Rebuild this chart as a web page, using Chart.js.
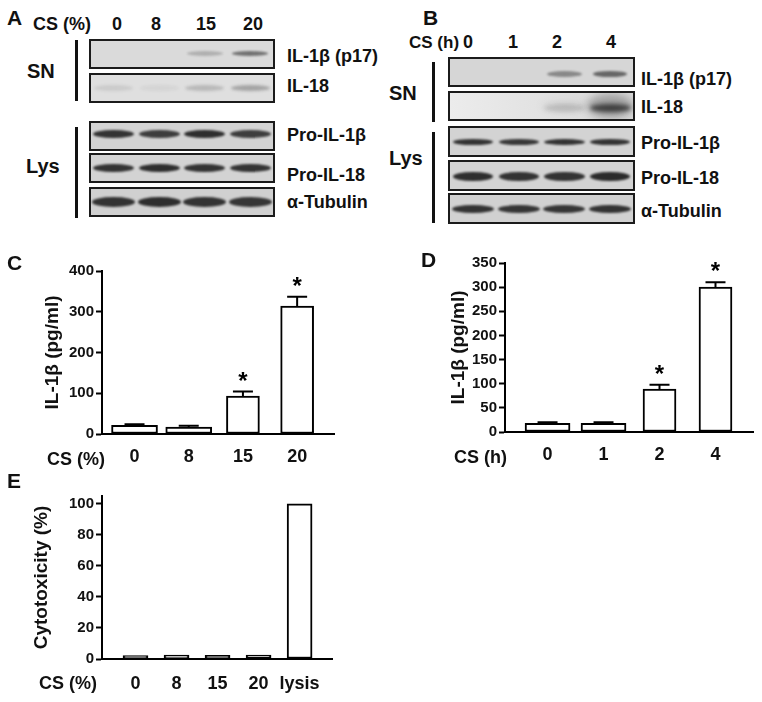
<!DOCTYPE html>
<html><head><meta charset="utf-8">
<script src="https://cdn.jsdelivr.net/npm/chart.js@4.4.1/dist/chart.umd.min.js"></script>
<style>
body{margin:0;background:#fff;width:762px;height:702px;position:relative;overflow:hidden;font-family:'Liberation Sans',Arial,sans-serif;}
canvas{position:absolute;}
.t{position:absolute;font-weight:bold;line-height:1;white-space:nowrap;color:#111;}
.box{position:absolute;box-sizing:border-box;border:2px solid #1b1b1b;overflow:hidden;}
.band{position:absolute;border-radius:50%;}
.vl{position:absolute;background:#111;width:3px;}
</style></head><body>
<canvas id="cC" width="381" height="240" style="left:0;top:230px"></canvas>
<canvas id="cD" width="381" height="240" style="left:381px;top:230px"></canvas>
<canvas id="cE" width="381" height="242" style="left:0;top:460px"></canvas>
<script>
// ---------- data ----------
const catC = ['0', '8', '15', '20'];
const valC = [21, 17, 93, 314];
const errC = [3, 3, 11, 23];
const sigC = [false, false, true, true];
const ticksC = [0, 100, 200, 300, 400];

const catD = ['0', '1', '2', '4'];
const valD = [18, 18, 89, 300];
const errD = [2, 2, 9, 10];
const sigD = [false, false, true, true];
const ticksD = [0, 50, 100, 150, 200, 250, 300, 350];

const catE = ['0', '8', '15', '20', 'lysis'];
const valE = [2.2, 2.5, 2.3, 2.6, 100];
const errE = [0, 0, 0, 0, 0];
const sigE = [false, false, false, false, false];
const ticksE = [0, 20, 40, 60, 80, 100];

// blot lane labels and band intensities (0..1)
const lanesA = ['0', '8', '15', '20'];
const lanesB = ['0', '1', '2', '4'];
const rowsA = ['IL-1β (p17)', 'IL-18', 'Pro-IL-1β', 'Pro-IL-18', 'α-Tubulin'];
const rowsB = ['IL-1β (p17)', 'IL-18', 'Pro-IL-1β', 'Pro-IL-18', 'α-Tubulin'];
const bandsA = [[0, 0, 0.22, 0.55], [0.1, 0.05, 0.2, 0.3], [0.88, 0.82, 0.9, 0.82], [0.88, 0.9, 0.88, 0.88], [0.88, 0.9, 0.88, 0.86]];
const bandsB = [[0, 0, 0.42, 0.6], [0, 0, 0.15, 0.75], [0.88, 0.85, 0.88, 0.88], [0.9, 0.88, 0.88, 0.92], [0.88, 0.86, 0.86, 0.88]];

// ---------- helpers ----------
const FF = "'Liberation Sans', Arial, sans-serif";
function txt(s, x, base, fs, align) {
  const d = document.createElement('div');
  d.className = 't';
  d.textContent = s;
  d.style.fontSize = fs + 'px';
  d.style.top = (base - 0.8465 * fs) + 'px';
  d.style.left = x + 'px';
  if (align === 'center') d.style.transform = 'translateX(-50%)';
  document.body.appendChild(d);
}
function vline(x, y1, y2) {
  const d = document.createElement('div');
  d.className = 'vl';
  d.style.left = x + 'px'; d.style.top = y1 + 'px'; d.style.height = (y2 - y1) + 'px';
  document.body.appendChild(d);
}
function blot(x, y, w, h, bg, ints, bandOff, bandH, bandWf, blur, extra) {
  const b = document.createElement('div');
  b.className = 'box';
  b.style.cssText += `left:${x}px;top:${y}px;width:${w}px;height:${h}px;background:${bg};`;
  const lw = (w - 4) / ints.length;
  ints.forEach((a, i) => {
    if (!a) return;
    const bw = lw * bandWf;
    const cx = (i + 0.5) * lw;
    const e = document.createElement('div');
    e.className = 'band';
    e.style.cssText += `left:${cx - bw / 2}px;top:${bandOff - 2 - bandH / 2}px;width:${bw}px;height:${bandH}px;background:rgba(28,28,28,${a});filter:blur(${blur}px);`;
    b.appendChild(e);
    if (extra && extra[i]) {
      const g = document.createElement('div');
      g.className = 'band';
      const ew = lw * 1.0, eh = extra[i];
      g.style.cssText += `left:${cx - ew / 2}px;top:${bandOff - 2 - eh / 2 - 2}px;width:${ew}px;height:${eh}px;background:rgba(40,40,40,${a * 0.45});filter:blur(4px);`;
      b.appendChild(g);
    }
  });
  document.body.appendChild(b);
}

// ---------- panel A ----------
txt('A', 7, 25, 21);
txt('CS (%)', 33, 30, 18);
const lxA = [117, 156, 206, 253];
lanesA.forEach((l, i) => txt(l, lxA[i], 30, 18, 'center'));
vline(74.5, 40, 100.7); vline(74.5, 126.7, 218);
txt('SN', 27, 78, 20); txt('Lys', 26, 173, 20);
const boxA = [[39.3, 30, '#dadada', 14.7, 5, 0.8, 1.2], [72.7, 30.6, '#dfdfdf', 15.3, 6, 0.85, 1.5],
  [120.7, 30, '#d3d3d3', 13.3, 8, 0.9, 1.0], [153.3, 30, '#d3d3d3', 14.7, 8, 0.9, 1.0], [186.7, 30, '#d0d0d0', 15, 10, 0.94, 1.0]];
boxA.forEach((r, i) => blot(89, r[0], 186, r[1], r[2], bandsA[i], r[3], r[4], r[5], r[6]));
const baseA = [62, 92, 141.7, 181.7, 208];
rowsA.forEach((s, i) => txt(s, 287, baseA[i], 18));

// ---------- panel B ----------
txt('B', 423, 25, 21);
txt('CS (h)', 409, 48, 17);
const lxB = [468, 513, 557, 611];
lanesB.forEach((l, i) => txt(l, lxB[i], 48, 18, 'center'));
vline(431.5, 61.7, 121.7); vline(431.5, 131.7, 223.3);
txt('SN', 389, 100, 20); txt('Lys', 389, 165, 20);
const boxB = [[57.3, 30, '#d6d6d6', 16.7, 6, 0.75, 1.2, null], [90.7, 30, 'linear-gradient(90deg,#ececec,#e0e0e0 60%,#d8d8d8)', 17.3, 8, 0.9, 2.0, [0, 0, 10, 24]],
  [126, 30.7, '#d3d3d3', 15.5, 6, 0.88, 0.9, null], [160, 30.7, '#d3d3d3', 16, 9, 0.88, 1.0, null], [193.3, 30.7, '#d1d1d1', 15.3, 8, 0.92, 1.0, null]];
boxB.forEach((r, i) => blot(448.3, r[0], 186.7, r[1], r[2], bandsB[i], r[3], r[4], r[5], r[6], r[7]));
const baseB = [85, 113, 149, 184, 217];
rowsB.forEach((s, i) => txt(s, 641, baseB[i], 18));

// ---------- bar charts ----------
txt('C', 7, 270, 21);
txt('D', 421, 267, 21);
txt('E', 7, 488, 21);
txt('CS (%)', 47, 465, 18);
txt('CS (h)', 454, 463, 18);
txt('CS (%)', 39, 689, 18);

Chart.defaults.font.family = FF;
Chart.defaults.font.weight = 'bold';
Chart.defaults.color = '#111';

const errPlugin = {
  id: 'errbars',
  afterDatasetsDraw(chart) {
    const ctx = chart.ctx, ys = chart.scales.y;
    chart.data.datasets.forEach((ds, di) => {
      const meta = chart.getDatasetMeta(di);
      meta.data.forEach((el, j) => {
        const p = ds.data[j];
        if (!p.e) return;
        const top = ys.getPixelForValue(p.y + p.e);
        ctx.save();
        ctx.strokeStyle = '#000'; ctx.lineWidth = 2;
        ctx.beginPath();
        ctx.moveTo(el.x, el.y); ctx.lineTo(el.x, top);
        ctx.moveTo(el.x - 10, top); ctx.lineTo(el.x + 10, top);
        ctx.stroke();
        if (p.s) {
          ctx.font = 'bold 24px ' + FF;
          ctx.fillStyle = '#000'; ctx.textAlign = 'center'; ctx.textBaseline = 'alphabetic';
          ctx.fillText('*', el.x, top - 3);
        }
        ctx.restore();
      });
    });
  }
};

function build(id, cats, vals, errs, sigs, yTicks, yMax, yTitle, groups, g) {
  const datasets = groups.map(gr => ({
    data: gr.idx.map(i => ({ x: i, y: vals[i], e: errs[i], s: sigs[i] })),
    backgroundColor: '#fff', borderColor: '#000', borderWidth: 2, borderSkipped: false,
    barThickness: gr.w, grouped: false
  }));
  new Chart(document.getElementById(id), {
    type: 'bar',
    data: { datasets },
    options: {
      responsive: false, animation: false, devicePixelRatio: 1,
      layout: { padding: { left: 0, right: g.padR, top: g.padT, bottom: 0 } },
      plugins: { legend: { display: false }, tooltip: { enabled: false } },
      scales: {
        x: {
          type: 'linear', min: g.xMin, max: g.xMax, offset: false,
          grid: { display: false, drawTicks: false },
          border: { display: true, color: '#000', width: 2 },
          afterBuildTicks: s => { s.ticks = cats.map((c, i) => ({ value: i })); },
          afterFit: s => { s.height = g.xH; },
          ticks: { autoSkip: false, maxRotation: 0, padding: g.xPad, font: { size: 18, weight: 'bold' }, color: '#111', callback: v => cats[v] }
        },
        y: {
          min: 0, max: yMax,
          grid: { display: true, drawOnChartArea: false, drawTicks: true, tickLength: 6, tickWidth: 2, tickColor: '#000', color: '#000' },
          border: { display: true, color: '#000', width: 2 },
          afterBuildTicks: s => { s.ticks = yTicks.map(v => ({ value: v })); },
          afterFit: s => { s.width = g.yW; },
          ticks: { padding: 2, font: { size: 15, weight: 'bold' }, color: '#111' },
          title: { display: true, text: yTitle, font: { size: 19, weight: 'bold' }, color: '#111', padding: { top: g.tPad, bottom: 0 } }
        }
      }
    },
    plugins: [errPlugin]
  });
}

build('cC', catC, valC, errC, sigC, ticksC, 400, 'IL-1β (pg/ml)',
  [{ idx: [0, 1], w: 46 }, { idx: [2, 3], w: 33 }],
  { padR: 47, padT: 41, yW: 102, xH: 36, xMin: -0.6, xMax: 3.68, xPad: 12, tPad: 41 });
build('cD', catD, valD, errD, sigD, ticksD, 350, 'IL-1β (pg/ml)',
  [{ idx: [0, 1], w: 45 }, { idx: [2, 3], w: 33 }],
  { padR: 9, padT: 33, yW: 124, xH: 38, xMin: -0.76, xMax: 3.67, xPad: 12, tPad: 66 });
build('cE', catE, valE, errE, sigE, ticksE, 105, 'Cytotoxicity (%)',
  [{ idx: [0, 1, 2, 3, 4], w: 25 }],
  { padR: 49, padT: 36, yW: 102, xH: 43, xMin: -0.817, xMax: 4.79, xPad: 14, tPad: 30 });
</script>
</body></html>
